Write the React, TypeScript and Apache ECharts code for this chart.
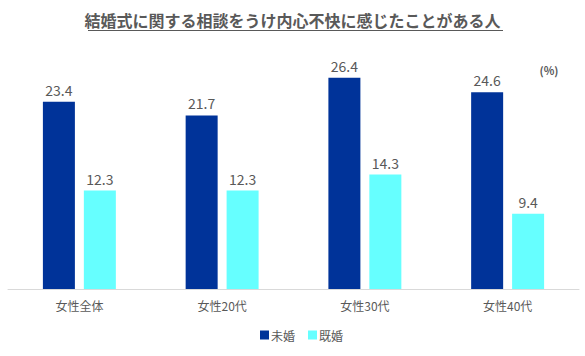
import React, { useEffect, useRef } from "react";
import * as echarts from "echarts";

const categories = ["女性全体", "女性20代", "女性30代", "女性40代"];
const unmarried = [23.4, 21.7, 26.4, 24.6];
const married = [12.3, 12.3, 14.3, 9.4];
const seriesNames = ["未婚", "既婚"];
const titleText = "結婚式に関する相談をうけ内心不快に感じたことがある人";
const unitText = "(%)";

const FONT = '"Noto Sans CJK JP", "Noto Sans", sans-serif';

export default function App() {
  const ref = useRef<HTMLDivElement>(null);
  useEffect(() => {
    if (!ref.current) return;
    const chart = echarts.init(ref.current, undefined, { renderer: "svg" });
    const labelStyle = {
      show: true,
      position: "top" as const,
      distance: 5,
      color: "#595959",
      fontSize: 14,
      fontFamily: FONT,
    };
    chart.setOption({
      animation: false,
      backgroundColor: "#ffffff",
      textStyle: { fontFamily: FONT },
      title: {
        text: titleText,
        left: "center",
        top: 7,
        textStyle: { color: "#595959", fontSize: 16, fontWeight: "bold", fontFamily: FONT },
      },
      graphic: [
        {
          type: "line",
          shape: { x1: 88, y1: 30.5, x2: 503, y2: 30.5 },
          style: { stroke: "#595959", lineWidth: 1 },
        },
        {
          type: "text",
          x: 549,
          y: 70,
          style: {
            text: unitText,
            fill: "#595959",
            fontSize: 11,
            fontWeight: "bold",
            fontFamily: FONT,
            textAlign: "center",
            textVerticalAlign: "middle",
          },
        },
      ],
      legend: {
        bottom: 10,
        left: 255,
        itemWidth: 9,
        itemHeight: 9,
        itemGap: 13,
        icon: "rect",
        textStyle: { color: "#595959", fontSize: 12, fontFamily: FONT, padding: [0, 0, 0, -3] },
        data: seriesNames,
      },
      grid: { left: 8, right: 6, top: 49, bottom: 67 },
      xAxis: {
        type: "category",
        data: categories,
        axisLine: { lineStyle: { color: "#d9d9d9" } },
        axisTick: { show: false },
        axisLabel: { color: "#595959", fontSize: 12, margin: 10, fontFamily: FONT },
      },
      yAxis: {
        type: "value",
        min: 0,
        max: 30,
        show: false,
        splitLine: { show: false },
      },
      series: [
        {
          name: seriesNames[0],
          type: "bar",
          data: unmarried,
          barWidth: 32,
          barGap: "28%",
          itemStyle: { color: "#003399" },
          label: labelStyle,
        },
        {
          name: seriesNames[1],
          type: "bar",
          data: married,
          barWidth: 32,
          itemStyle: { color: "#66ffff" },
          label: labelStyle,
        },
      ],
    });
    return () => chart.dispose();
  }, []);
  return <div ref={ref} style={{ width: 585, height: 356, position: "absolute", left: 0, top: 0 }} />;
}
